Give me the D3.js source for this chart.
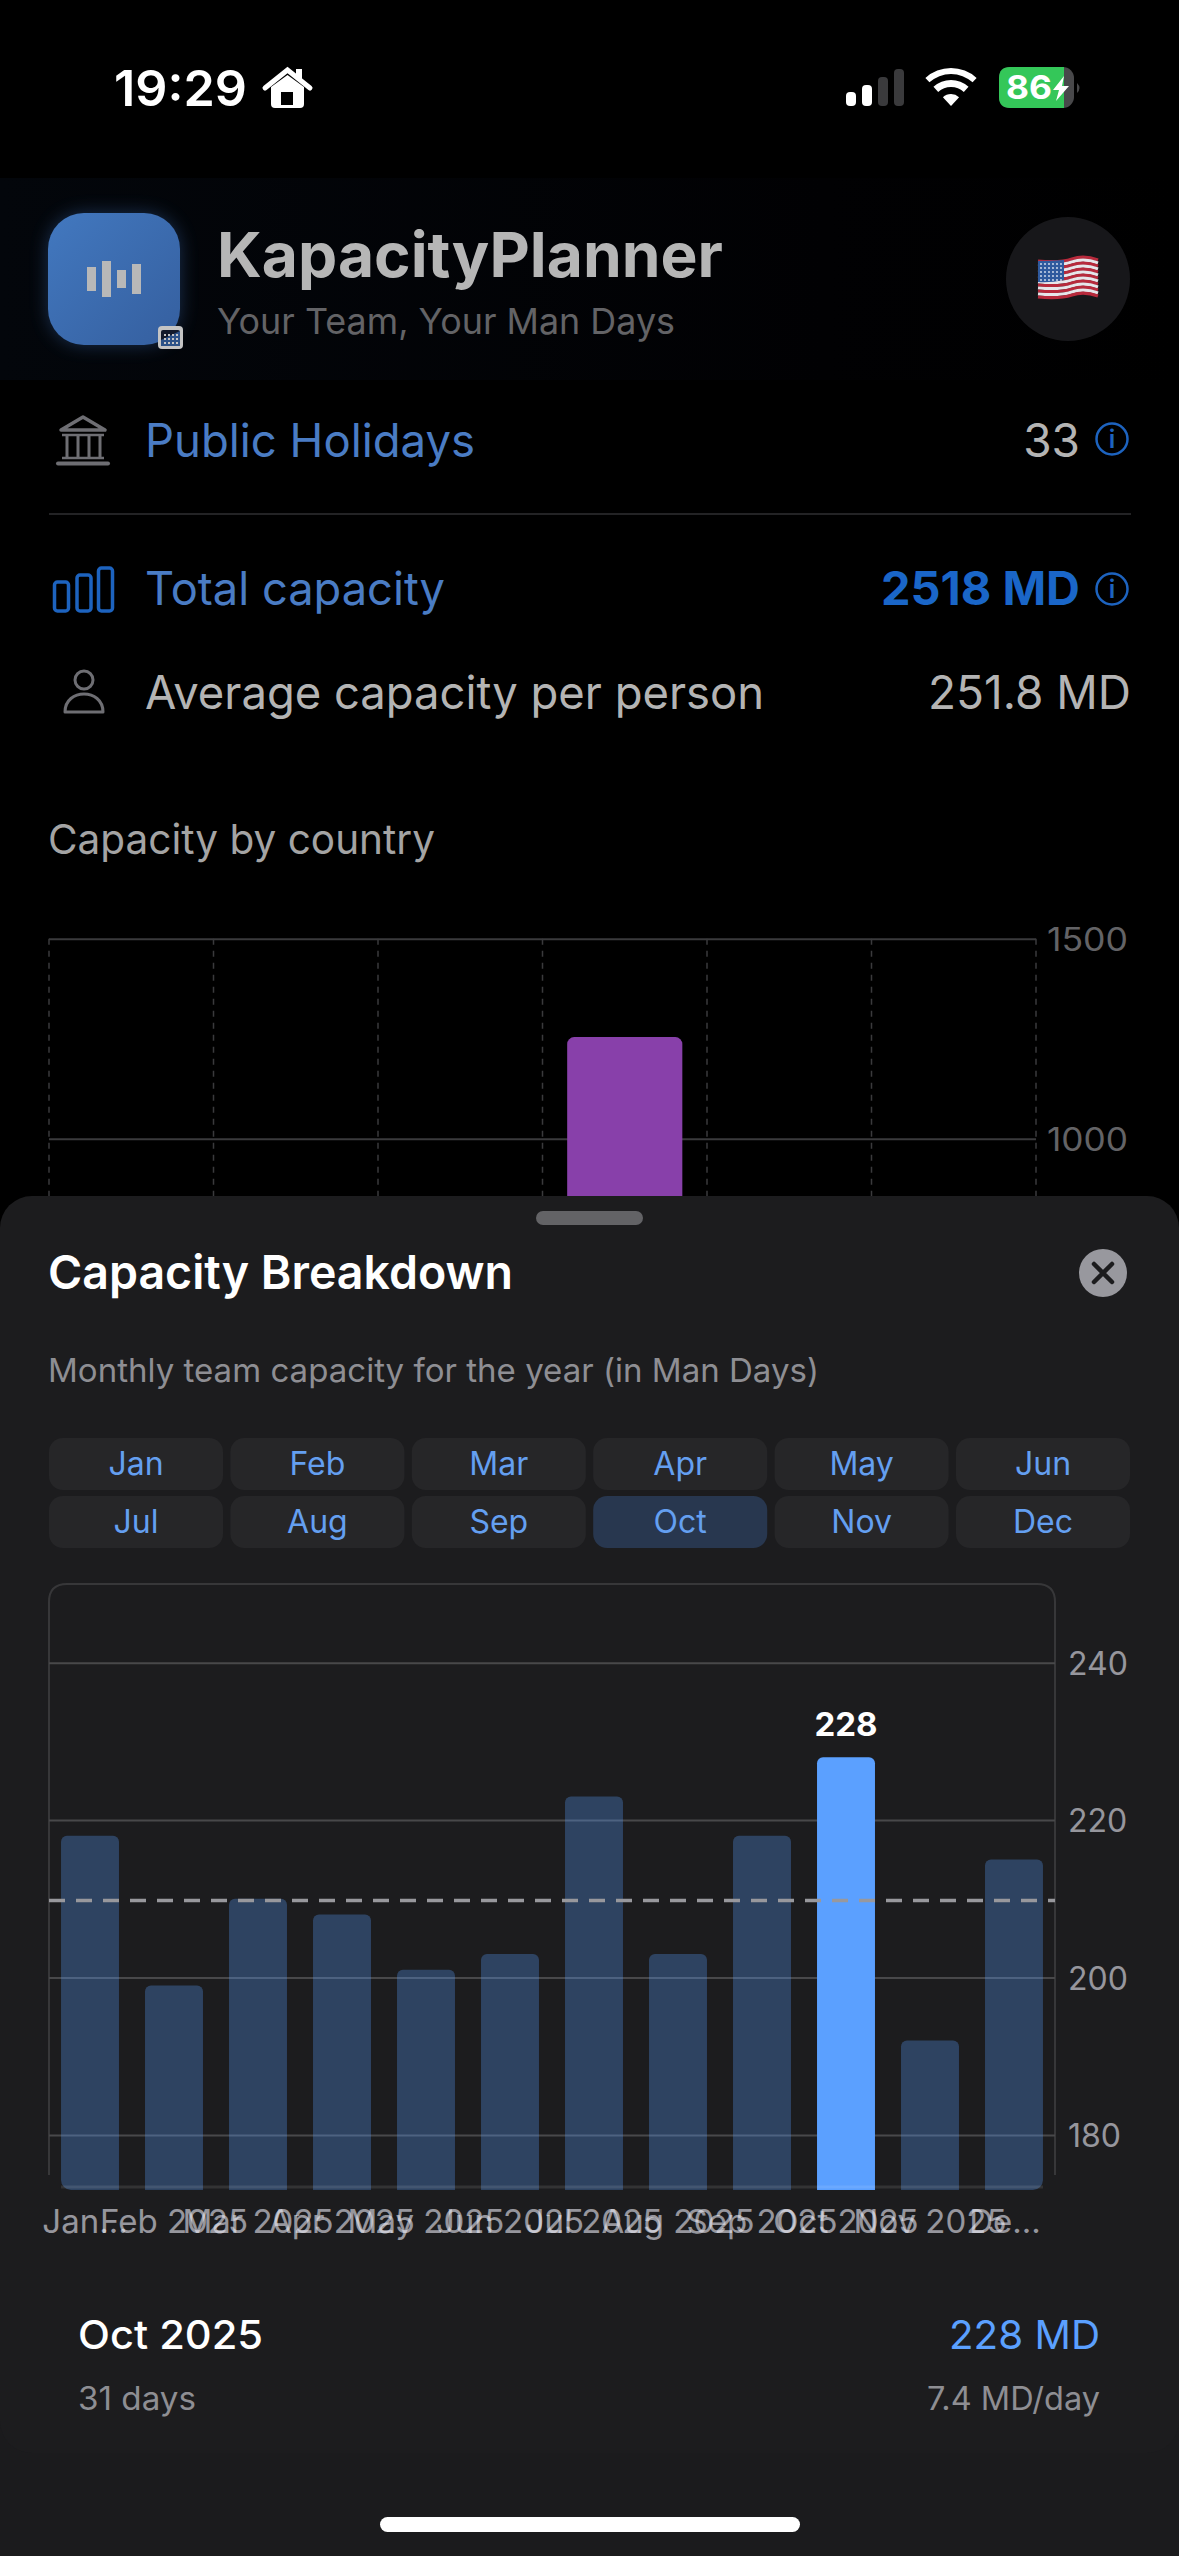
<!DOCTYPE html>
<html>
<head>
<meta charset="utf-8">
<script src="https://cdn.jsdelivr.net/npm/d3@7"></script>
<style>
  html, body { margin: 0; padding: 0; background: #000; }
  svg { display: block; }
  text { font-family: Inter, "Noto Sans", sans-serif; }
</style>
</head>
<body>
<svg id="screen" width="1179" height="2556" viewBox="0 0 1179 2556"></svg>
<script>
// ---- DATA ----
const monthNames = ['Jan', 'Feb', 'Mar', 'Apr', 'May', 'Jun', 'Jul', 'Aug', 'Sep', 'Oct', 'Nov', 'Dec'];
const monthTickLabels = ['Jan...', 'Feb 2025', 'Mar 2025', 'Apr 2025', 'May 2025', 'Jun 2025', 'Jul 2025', 'Aug 2025', 'Sep 2025', 'Oct 2025', 'Nov 2025', 'De...'];
const monthValues = [218, 199, 210, 208, 201, 203, 223, 203, 218, 228, 192, 215];
const monthTicks = [180, 200, 220, 240];
const averageValue = 209.8;
const selectedMonth = 'Oct';

// only one country bar shows above the sheet, the rest are hidden behind it
const countrySlots = [0, 1, 2, 3, 4, 5];
const countryValues = [null, null, null, 1254, null, null];
const countryTicks = [1000, 1500];

const svg = d3.select('#screen');
const dim = 'rgba(235,235,245,0.6)';
const blue = '#5ba0ff';

// one text helper, width is optional and squeezes the run to the measured length
function label(parent, str, x, y, size, fill, opts = {}) {
  const t = parent.append('text')
    .attr('x', x).attr('y', y)
    .attr('font-size', size)
    .attr('font-weight', opts.weight || 400)
    .attr('text-anchor', opts.anchor || 'start')
    .attr('fill', fill)
    .text(str);
  if (opts.width) t.attr('textLength', opts.width).attr('lengthAdjust', 'spacingAndGlyphs');
  return t;
}

const defs = svg.append('defs');

const bandGrad = defs.append('linearGradient').attr('id', 'headerBand');
bandGrad.append('stop').attr('offset', '0').attr('stop-color', '#03060b');
bandGrad.append('stop').attr('offset', '0.7').attr('stop-color', '#010103');
bandGrad.append('stop').attr('offset', '1').attr('stop-color', '#000');

const iconGrad = defs.append('linearGradient').attr('id', 'iconFill')
  .attr('x1', 0).attr('y1', 0).attr('x2', 1).attr('y2', 1);
iconGrad.append('stop').attr('offset', '0').attr('stop-color', '#4278bf');
iconGrad.append('stop').attr('offset', '1').attr('stop-color', '#355f9f');

defs.append('filter').attr('id', 'glow')
  .attr('x', '-30%').attr('y', '-30%').attr('width', '160%').attr('height', '160%')
  .append('feGaussianBlur').attr('stdDeviation', 9);

svg.append('rect').attr('width', 1179).attr('height', 2556).attr('fill', '#000');

// ---- STATUS BAR ----
const status = svg.append('g');
label(status, '19:29', 114, 106, 50, '#fff', { weight: 600, width: 133 });

const house = status.append('g');
house.append('path').attr('d', 'M265,88 L287.5,70 L310,88')
  .attr('fill', 'none').attr('stroke', '#fff').attr('stroke-width', 5).attr('stroke-linecap', 'round');
house.append('path').attr('d', 'M271,87 L287.5,75 L304,87 V104 Q304,108 300,108 H275 Q271,108 271,104 Z').attr('fill', '#fff');
house.append('rect').attr('x', 281).attr('y', 92).attr('width', 12).attr('height', 13).attr('fill', '#000');
house.append('rect').attr('x', 296).attr('y', 69).attr('width', 6).attr('height', 10).attr('fill', '#fff');

status.selectAll('.signal').data([[846, 92, '#fff'], [862, 85, '#fff'], [878, 77, '#3a3a3c'], [894, 69, '#3a3a3c']])
  .join('rect').attr('class', 'signal')
  .attr('x', d => d[0]).attr('y', d => d[1])
  .attr('width', 10).attr('height', d => 106 - d[1]).attr('rx', 4)
  .attr('fill', d => d[2]);

const wifiArc = d3.arc().startAngle(-0.74).endAngle(0.74);
[[0, 12], [19, 26], [32, 38]].forEach(r => {
  status.append('path')
    .attr('d', wifiArc({ innerRadius: r[0], outerRadius: r[1] }))
    .attr('transform', 'translate(951,106)')
    .attr('fill', '#fff');
});

status.append('rect').attr('x', 999).attr('y', 67).attr('width', 75).attr('height', 41).attr('rx', 11).attr('fill', '#48484a');
status.append('path').attr('d', 'M1010,67 H1064 V108 H1010 Q999,108 999,97 V78 Q999,67 1010,67 Z').attr('fill', '#34c759');
status.append('path').attr('d', 'M1077,83 Q1082,88 1077,93 Z').attr('fill', '#48484a');
label(status, '86', 1006, 99, 33, '#fff', { weight: 700, width: 46 });
status.append('path').attr('d', 'M1064,76 L1053,90 H1059 L1056,101 L1069,86 H1062 Z').attr('fill', '#fff');

// ---- APP HEADER ----
const header = svg.append('g');
header.append('rect').attr('y', 178).attr('width', 1179).attr('height', 202).attr('fill', 'url(#headerBand)');
header.append('rect').attr('x', 48).attr('y', 213).attr('width', 132).attr('height', 132).attr('rx', 36)
  .attr('fill', '#3d6fb5').attr('opacity', 0.4).attr('filter', 'url(#glow)');
header.append('rect').attr('x', 48).attr('y', 213).attr('width', 132).attr('height', 132).attr('rx', 36)
  .attr('fill', 'url(#iconFill)');
[[87, 267, 24], [102, 261, 36], [117, 270, 18], [132, 264, 30]].forEach(b => {
  header.append('rect').attr('x', b[0]).attr('y', b[1]).attr('width', 9).attr('height', b[2]).attr('fill', '#b8b8b8');
});
header.append('rect').attr('x', 158).attr('y', 326).attr('width', 25).attr('height', 23).attr('rx', 4).attr('fill', '#c4c4c4');
header.append('rect').attr('x', 161).attr('y', 330).attr('width', 19).attr('height', 16).attr('rx', 2).attr('fill', '#121a2b');
header.append('path').attr('d', 'M161,346 V340 L180,331 V346 Z').attr('fill', '#2c5288');
d3.range(3).forEach(r => d3.range(4).forEach(c => {
  header.append('rect').attr('x', 164 + c * 4).attr('y', 334 + r * 4).attr('width', 2).attr('height', 2).attr('fill', '#c4c4c4');
}));

label(header, 'KapacityPlanner', 217, 277, 62, '#b6b6b6', { weight: 700, width: 506 });
label(header, 'Your Team, Your Man Days', 217, 334, 36, '#636366', { width: 458 });

header.append('circle').attr('cx', 1068).attr('cy', 279).attr('r', 62).attr('fill', '#17171a');
// little waving flag, 13 stripes over a blue canton
const flag = header.append('g');
d3.range(13).forEach(i => {
  const y0 = 260 + i * 3;
  flag.append('path')
    .attr('d', `M1038,${y0 + 1} Q1060,${y0 + 3} 1072,${y0 - 1} T1098,${y0}`)
    .attr('fill', 'none').attr('stroke', i % 2 ? '#e6e6ea' : '#b72a3c').attr('stroke-width', 3.2);
});
flag.append('path').attr('d', 'M1038,261 Q1050,261 1064,260 V280 Q1050,283 1038,282 Z').attr('fill', '#2f5a9e');
d3.range(5).forEach(r => d3.range(6).forEach(c => {
  flag.append('circle').attr('cx', 1041 + c * 4).attr('cy', 264 + r * 4).attr('r', 0.9).attr('fill', '#dfe6f2');
}));

// ---- SUMMARY ROWS ----
const rows = svg.append('g');
const muted = '#6e6e73';

const bank = rows.append('g').attr('fill', 'none').attr('stroke', muted);
bank.append('path').attr('d', 'M83,417 L105,430 H61 Z').attr('stroke-width', 3.5).attr('stroke-linejoin', 'round');
bank.append('path').attr('d', 'M62,435 H104 M62,458 H104').attr('stroke-width', 2.5);
bank.append('path').attr('d', 'M67,436 V457 M78,436 V457 M89,436 V457 M100,436 V457').attr('stroke-width', 3);
bank.append('path').attr('d', 'M58,463.5 H108').attr('stroke-width', 4).attr('stroke-linecap', 'round');

label(rows, 'Public Holidays', 145, 457, 46, '#4a7cc4', { width: 330 });
label(rows, '33', 1080, 457, 46, '#b4b4b4', { anchor: 'end' });

function infoIcon(cy) {
  const g = rows.append('g');
  g.append('circle').attr('cx', 1112).attr('cy', cy).attr('r', 15.5)
    .attr('fill', 'none').attr('stroke', '#1d63bf').attr('stroke-width', 2.5);
  label(g, 'i', 1112, cy + 9, 25, '#1d63bf', { anchor: 'middle', weight: 600 });
}
infoIcon(439);

rows.append('line').attr('x1', 49).attr('x2', 1131).attr('y1', 514).attr('y2', 514).attr('stroke', '#232325').attr('stroke-width', 2);

[[53, 582], [75.5, 575], [97, 568]].forEach(b => {
  rows.append('rect').attr('x', b[0] + 1.5).attr('y', b[1])
    .attr('width', 14).attr('height', 611 - b[1]).attr('rx', 3)
    .attr('fill', 'none').attr('stroke', '#1d63bf').attr('stroke-width', 3.5);
});
label(rows, 'Total capacity', 145, 605, 46, '#4a7cc4', { width: 300 });
label(rows, '2518 MD', 1080, 605, 46, '#1a66c8', { anchor: 'end', weight: 700, width: 199 });
infoIcon(589);

rows.append('circle').attr('cx', 84).attr('cy', 680).attr('r', 9).attr('fill', 'none').attr('stroke', muted).attr('stroke-width', 3);
rows.append('path').attr('d', 'M65,712 C65,688 103,688 103,712 Z').attr('fill', 'none').attr('stroke', muted).attr('stroke-width', 3).attr('stroke-linejoin', 'round');
label(rows, 'Average capacity per person', 145, 709, 46, '#b4b4b4', { width: 619 });
label(rows, '251.8 MD', 1131, 709, 46, '#b4b4b4', { anchor: 'end', width: 203 });

label(rows, 'Capacity by country', 48, 854, 41, '#a4a4a4', { width: 387 });

// ---- COUNTRY CHART (mostly behind the sheet) ----
const countryX = d3.scaleBand().domain(countrySlots).range([49, 1036]).padding(0);
const countryY = d3.scaleLinear().domain([0, 1500]).range([1538.7, 938.7]);
const countryChart = svg.append('g');

countryChart.selectAll('.v-grid').data(d3.range(7))
  .join('line').attr('class', 'v-grid')
  .attr('x1', i => 49 + i * countryX.step()).attr('x2', i => 49 + i * countryX.step())
  .attr('y1', countryY(1500)).attr('y2', 1200)
  .attr('stroke', '#3a3a3c').attr('stroke-width', 1.5).attr('stroke-dasharray', '6 6');

const countryAxis = countryChart.append('g')
  .attr('transform', 'translate(1036,0)')
  .call(d3.axisRight(countryY).tickValues(countryTicks).tickSize(-987).tickPadding(11).tickFormat(d3.format('d')));
countryAxis.select('.domain').remove();
countryAxis.selectAll('line').attr('stroke', '#3a3a3c').attr('stroke-width', 2);
countryAxis.selectAll('text').attr('font-size', 32).attr('fill', '#636366').attr('font-family', 'Inter')
  .attr('dy', '0.36em').attr('textLength', 81).attr('lengthAdjust', 'spacingAndGlyphs');

countryChart.selectAll('.country-bar')
  .data(countrySlots.filter(i => countryValues[i] !== null))
  .join('rect').attr('class', 'country-bar')
  .attr('x', i => countryX(i) + countryX.bandwidth() * 0.15)
  .attr('width', countryX.bandwidth() * 0.7)
  .attr('y', i => countryY(countryValues[i]))
  .attr('height', i => countryY(0) - countryY(countryValues[i]))
  .attr('rx', 7)
  .attr('fill', '#8840aa');

// ---- BOTTOM SHEET ----
const sheet = svg.append('g');
sheet.append('rect').attr('y', 2400).attr('width', 1179).attr('height', 156).attr('fill', '#1b1b1d');
sheet.append('rect').attr('y', 1196).attr('width', 1179).attr('height', 1257).attr('rx', 32).attr('fill', '#1c1c1e');
sheet.append('rect').attr('x', 536).attr('y', 1211).attr('width', 107).attr('height', 14).attr('rx', 7).attr('fill', '#636366');

label(sheet, 'Capacity Breakdown', 48, 1289, 47, '#fff', { weight: 600, width: 465 });
sheet.append('circle').attr('cx', 1103).attr('cy', 1273).attr('r', 24).attr('fill', '#98989e');
sheet.append('path').attr('d', 'M1094,1264 L1112,1282 M1112,1264 L1094,1282')
  .attr('stroke', '#1c1c1e').attr('stroke-width', 4.5).attr('stroke-linecap', 'round');
label(sheet, 'Monthly team capacity for the year (in Man Days)', 48, 1382, 33, '#8e8e93', { width: 771 });

// month picker, 2 rows of 6
const pickerStepX = 181.4;
const pickerStepY = 58;
const buttons = sheet.selectAll('.month-btn').data(monthNames).join('g')
  .attr('class', 'month-btn')
  .attr('transform', (d, i) => `translate(${49 + (i % 6) * pickerStepX},${1438 + Math.floor(i / 6) * pickerStepY})`);
buttons.append('rect').attr('width', 174).attr('height', 52).attr('rx', 14)
  .attr('fill', d => d === selectedMonth ? '#28374f' : '#262628');
buttons.append('text').attr('x', 87).attr('y', 37).attr('text-anchor', 'middle')
  .attr('font-size', 32).attr('fill', '#649ff0').text(d => d);

// ---- MONTHLY CHART ----
const x = d3.scaleBand().domain(monthNames).range([48, 1056]).paddingInner(0.31).paddingOuter(0.155);
const y = d3.scaleLinear().domain([173, 250]).range([2190, 1584]);
const chart = svg.append('g');

defs.append('clipPath').attr('id', 'barClip').append('rect')
  .attr('x', x('Jan')).attr('y', 1500)
  .attr('width', x('Dec') + x.bandwidth() - x('Jan')).attr('height', 690).attr('rx', 10);

// frame has no bottom edge, the baseline takes that place
chart.append('path')
  .attr('d', 'M49,2175 V1602 Q49,1584 67,1584 H1037 Q1055,1584 1055,1602 V2175')
  .attr('fill', 'none').attr('stroke', 'rgba(255,255,255,0.12)').attr('stroke-width', 2);

const yAxis = chart.append('g')
  .attr('transform', 'translate(1055,0)')
  .call(d3.axisRight(y).tickValues(monthTicks).tickSize(-1006).tickPadding(13));
yAxis.select('.domain').remove();
yAxis.selectAll('line').attr('stroke', '#48484a').attr('stroke-width', 2);
yAxis.selectAll('text').attr('font-size', 32).attr('fill', dim).attr('font-family', 'Inter').attr('dy', '0.36em');

const barLayer = chart.append('g').attr('clip-path', 'url(#barClip)');
barLayer.selectAll('.month-bar').data(monthNames)
  .join('rect').attr('class', 'month-bar')
  .attr('x', d => x(d))
  .attr('width', x.bandwidth())
  .attr('y', (d, i) => y(monthValues[i]))
  .attr('height', (d, i) => y(173) - y(monthValues[i]) + 8)
  .attr('rx', 6)
  .attr('fill', blue)
  .attr('fill-opacity', d => d === selectedMonth ? 1 : 0.3);

chart.append('line')
  .attr('x1', x('Jan')).attr('x2', x('Dec') + x.bandwidth())
  .attr('y1', 2187).attr('y2', 2187)
  .attr('stroke', 'rgba(255,255,255,0.1)').attr('stroke-width', 3);

chart.append('line')
  .attr('x1', 49).attr('x2', 1055)
  .attr('y1', y(averageValue)).attr('y2', y(averageValue))
  .attr('stroke', '#98989d').attr('stroke-width', 3.5).attr('stroke-dasharray', '16 11');

const selectedIndex = monthNames.indexOf(selectedMonth);
label(chart, String(monthValues[selectedIndex]), x(selectedMonth) + x.bandwidth() / 2, y(monthValues[selectedIndex]) - 21, 33, '#fff', { anchor: 'middle', weight: 700 });

const xAxis = chart.append('g')
  .attr('transform', 'translate(0,2190)')
  .call(d3.axisBottom(x).tickSize(0).tickFormat((d, i) => monthTickLabels[i]));
xAxis.select('.domain').remove();
xAxis.selectAll('text')
  .attr('y', 43).attr('dy', 0)
  .attr('dx', (d, i) => i === 0 ? -5 : i === 11 ? -9 : 0)
  .attr('font-size', 33).attr('fill', dim).attr('font-family', 'Inter');

// ---- SELECTED MONTH FOOTER ----
const footer = svg.append('g');
label(footer, 'Oct 2025', 78, 2349, 40, '#fff', { weight: 500, width: 185 });
label(footer, `${monthValues[selectedIndex]} MD`, 1100, 2349, 40, blue, { anchor: 'end', width: 151 });
label(footer, '31 days', 78, 2410, 32, '#8e8e93', { width: 118 });
label(footer, '7.4 MD/day', 1100, 2410, 32, '#8e8e93', { anchor: 'end', width: 173 });

svg.append('rect').attr('x', 380).attr('y', 2517).attr('width', 420).attr('height', 15).attr('rx', 7.5).attr('fill', '#fff');
</script>
</body>
</html>
